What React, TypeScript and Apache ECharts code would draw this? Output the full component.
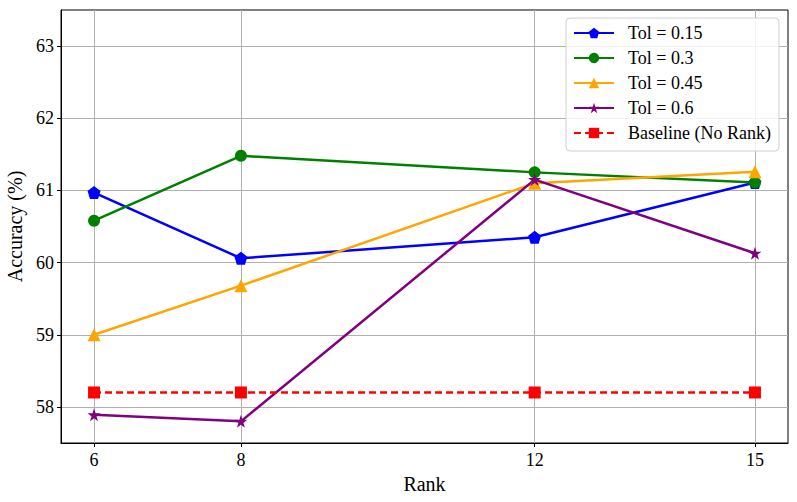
import React, { useEffect, useRef } from "react";
import * as echarts from "echarts";

const ranks = [6, 8, 12, 15];
const tol015 = [60.97, 60.06, 60.35, 61.11];
const tol03 = [60.58, 61.48, 61.25, 61.11];
const tol045 = [59.0, 59.68, 61.1, 61.26];
const tol06 = [57.89, 57.8, 61.15, 60.13];
const baseline = [58.2, 58.2, 58.2, 58.2];
const yTicks = [58, 59, 60, 61, 62, 63];

const pentagon = "path://M0,-1 L0.951,-0.309 L0.588,0.809 L-0.588,0.809 L-0.951,-0.309 Z";
const star =
  "path://M0,-1 L0.2245,-0.309 L0.951,-0.309 L0.363,0.118 L0.588,0.809 L0,0.382 L-0.588,0.809 L-0.363,0.118 L-0.951,-0.309 L-0.2245,-0.309 Z";

const font = "Liberation Serif";

export default function App() {
  const ref = useRef<HTMLDivElement>(null);
  useEffect(() => {
    document.body.style.margin = "0";
    const chart = echarts.init(ref.current!, undefined, { renderer: "svg" });
    const mk = (name: string, vals: number[], color: string, symbol: string, size: number, dashed = false) => ({
      name,
      type: "line",
      data: ranks.map((r, i) => [r, vals[i]]),
      symbol,
      symbolSize: size,
      itemStyle: { color },
      lineStyle: { color, width: 2.5, type: dashed ? [7, 4] : "solid" },
      z: 3,
    });
    chart.setOption({
      animation: false,
      textStyle: { fontFamily: font },
      grid: {
        left: 61,
        top: 10,
        width: 727,
        height: 433,
        outerBoundsMode: "none",
        containLabel: false,
        show: true,
        borderColor: "#000",
        borderWidth: 1,
        backgroundColor: "transparent",
      },
      legend: {
        orient: "vertical",
        left: 566,
        top: 18,
        padding: [5, 8, 8, 7],
        itemWidth: 40,
        itemHeight: 13,
        itemGap: 5,
        borderColor: "#d0d0d0",
        borderWidth: 1,
        borderRadius: 4,
        backgroundColor: "rgba(255,255,255,0.85)",
        textStyle: { fontFamily: font, fontSize: 18, color: "#000", padding: [0, 0, 0, 9], lineHeight: 20 },
        data: ["Tol = 0.15", "Tol = 0.3", "Tol = 0.45", "Tol = 0.6", "Baseline (No Rank)"],
      },
      xAxis: {
        type: "value",
        min: 5.55,
        max: 15.45,
        name: "Rank",
        nameLocation: "middle",
        nameGap: 25,
        nameTextStyle: { fontFamily: font, fontSize: 20, color: "#000" },
        axisLine: { show: true, lineStyle: { color: "#000", width: 1 } },
        axisTick: { show: true, inside: false, length: 4, lineStyle: { color: "#000" }, customValues: ranks },
        axisLabel: { fontFamily: font, fontSize: 18, color: "#000", margin: 8, customValues: ranks },
        splitLine: { show: true, lineStyle: { color: "#b0b0b0", width: 1 } },
      },
      yAxis: {
        type: "value",
        min: 57.5,
        max: 63.5,
        name: "Accuracy (%)",
        nameLocation: "middle",
        nameGap: 31,
        nameTextStyle: { fontFamily: font, fontSize: 20, color: "#000" },
        axisLine: { show: true, lineStyle: { color: "#000", width: 1 } },
        axisTick: { show: true, inside: false, length: 4, lineStyle: { color: "#000" }, customValues: yTicks },
        axisLabel: { fontFamily: font, fontSize: 18, color: "#000", margin: 7, customValues: yTicks },
        splitLine: { show: true, lineStyle: { color: "#b0b0b0", width: 1 } },
      },
      series: [
        mk("Tol = 0.15", tol015, "#0000ff", pentagon, 13),
        mk("Tol = 0.3", tol03, "#008000", "circle", 12),
        mk("Tol = 0.45", tol045, "#ffa500", "triangle", 13),
        mk("Tol = 0.6", tol06, "#800080", star, 13),
        mk("Baseline (No Rank)", baseline, "#ff0000", "rect", 12, true),
      ],
    });
    return () => chart.dispose();
  }, []);
  return <div ref={ref} style={{ width: 797, height: 502 }} />;
}
